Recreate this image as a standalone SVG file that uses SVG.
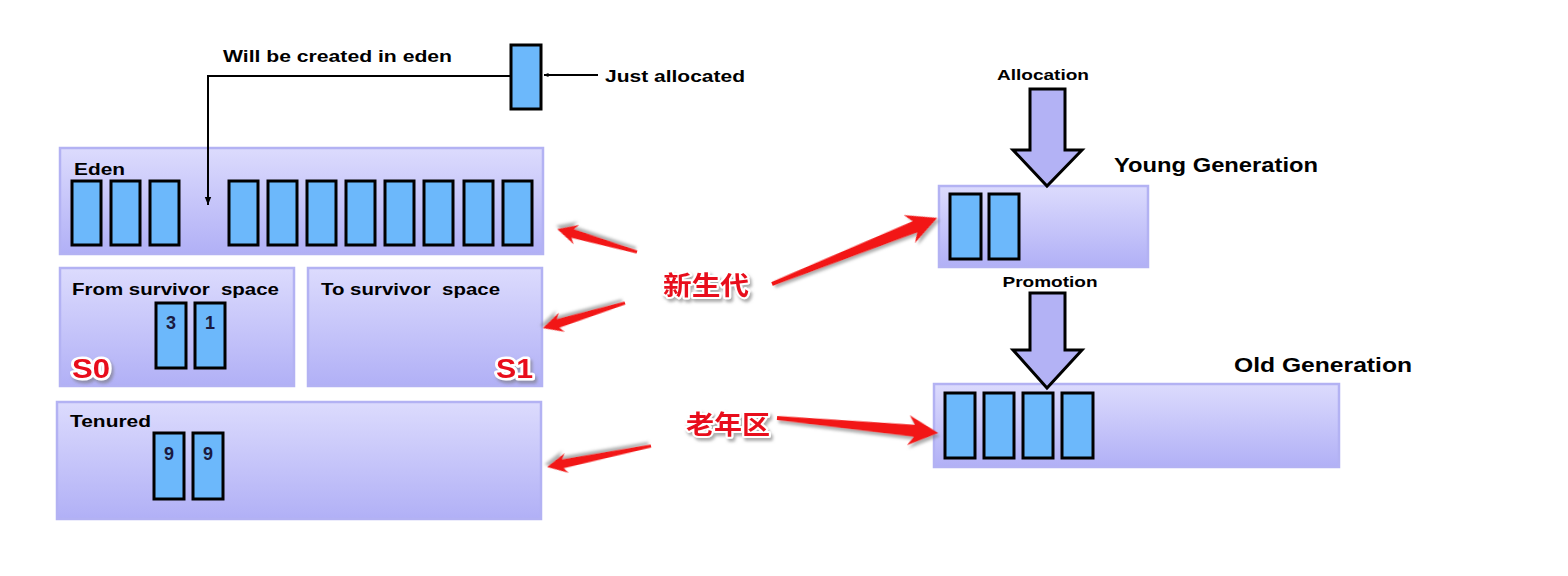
<svg xmlns="http://www.w3.org/2000/svg" width="1568" height="576" viewBox="0 0 1568 576">
<defs>
<linearGradient id="boxg" x1="0" y1="0" x2="0" y2="1">
<stop offset="0" stop-color="#dcdbfd"/>
<stop offset="1" stop-color="#b1b0f6"/>
</linearGradient>
<marker id="ah" viewBox="0 0 10 10" refX="9" refY="5" markerWidth="5" markerHeight="5" orient="auto" markerUnits="userSpaceOnUse">
<path d="M0,1 L10,5 L0,9 Z" fill="#000"/>
</marker>
<marker id="ah2" viewBox="0 0 10 10" refX="10" refY="5" markerWidth="8" markerHeight="8" orient="auto" markerUnits="userSpaceOnUse">
<path d="M0,1 L10,5 L0,9 Z" fill="#000"/>
</marker>
<filter id="sh" x="-20%" y="-50%" width="140%" height="200%">
<feDropShadow dx="2" dy="3" stdDeviation="1.5" flood-color="#777" flood-opacity="0.6"/>
</filter>
</defs>
<style>
.box{fill:url(#boxg);stroke:#b3b2f3;stroke-width:2.5}
.obj{fill:#6cb8fb;stroke:#000;stroke-width:3}
.t{font-family:"Liberation Sans",Arial,sans-serif;font-weight:bold;fill:#000;white-space:pre}
.num{font-family:"Liberation Sans",Arial,sans-serif;font-weight:bold;font-size:18px;fill:#1a1a40;text-anchor:middle}
.red{font-family:"Liberation Sans",Arial,sans-serif;font-weight:bold;fill:#e8101a;stroke:#fff;stroke-width:5;paint-order:stroke;stroke-linejoin:round;filter:url(#sh)}
.cn{font-family:"Noto Sans CJK SC","Liberation Sans",sans-serif;font-weight:bold;fill:#e8101a;stroke:#fff;stroke-width:4;paint-order:stroke;stroke-linejoin:round;filter:url(#sh)}
.ra{fill:#f21414;filter:url(#sh)}
.big{fill:#b3b2f5;stroke:#000;stroke-width:3;stroke-linejoin:miter}
.ln{fill:none;stroke:#000;stroke-width:2}
</style>
<rect width="1568" height="576" fill="#fff"/>

<g id="eden">
<rect class="box" x="60" y="148" width="483" height="106"/>
<text class="t" x="74" y="175" font-size="17" textLength="51" lengthAdjust="spacingAndGlyphs">Eden</text>
<rect class="obj" x="72" y="181" width="29" height="64"/>
<rect class="obj" x="111" y="181" width="29" height="64"/>
<rect class="obj" x="150" y="181" width="29" height="64"/>
<rect class="obj" x="229" y="181" width="29" height="64"/>
<rect class="obj" x="268" y="181" width="29" height="64"/>
<rect class="obj" x="307" y="181" width="29" height="64"/>
<rect class="obj" x="346" y="181" width="29" height="64"/>
<rect class="obj" x="385" y="181" width="29" height="64"/>
<rect class="obj" x="424" y="181" width="29" height="64"/>
<rect class="obj" x="464" y="181" width="29" height="64"/>
<rect class="obj" x="503" y="181" width="29" height="64"/>
</g>

<g id="new-object">
<rect class="obj" x="511" y="45" width="30" height="64"/>
</g>

<g id="from-survivor">
<rect class="box" x="60" y="268" width="234" height="118"/>
<text class="t" x="72" y="295" font-size="17" textLength="207" lengthAdjust="spacingAndGlyphs" xml:space="preserve">From survivor  space</text>
<rect class="obj" x="156" y="303" width="30" height="65"/>
<rect class="obj" x="195" y="303" width="30" height="65"/>
<text class="num" x="171" y="329">3</text>
<text class="num" x="210" y="329">1</text>
<text class="red" x="72" y="378" font-size="27" textLength="38" lengthAdjust="spacingAndGlyphs">S0</text>
</g>

<g id="to-survivor">
<rect class="box" x="308" y="268" width="234" height="118"/>
<text class="t" x="321" y="295" font-size="17" textLength="179" lengthAdjust="spacingAndGlyphs" xml:space="preserve">To survivor  space</text>
<text class="red" x="496" y="378" font-size="27" textLength="37" lengthAdjust="spacingAndGlyphs">S1</text>
</g>

<g id="tenured">
<rect class="box" x="57" y="402" width="484" height="117"/>
<text class="t" x="70" y="427" font-size="17" textLength="81" lengthAdjust="spacingAndGlyphs">Tenured</text>
<rect class="obj" x="154" y="433" width="30" height="66"/>
<rect class="obj" x="193" y="433" width="30" height="66"/>
<text class="num" x="169" y="460">9</text>
<text class="num" x="208" y="460">9</text>
</g>

<g id="young-gen">
<rect class="box" x="939" y="186" width="209" height="81"/>
<rect class="obj" x="950" y="194" width="31" height="65"/>
<rect class="obj" x="989" y="194" width="30" height="65"/>
<text class="t" x="1114" y="172" font-size="21" textLength="204" lengthAdjust="spacingAndGlyphs">Young Generation</text>
</g>

<g id="old-gen">
<rect class="box" x="934" y="384" width="405" height="83"/>
<rect class="obj" x="945" y="393" width="30" height="65"/>
<rect class="obj" x="984" y="393" width="30" height="65"/>
<rect class="obj" x="1023" y="393" width="30" height="65"/>
<rect class="obj" x="1062" y="393" width="31" height="65"/>
<text class="t" x="1234" y="372" font-size="21" textLength="178" lengthAdjust="spacingAndGlyphs">Old Generation</text>
</g>

<g id="label-young">
<text class="cn" x="663" y="295" font-size="26" textLength="86" lengthAdjust="spacingAndGlyphs">新生代</text>
</g>
<g id="label-old">
<text class="cn" x="686" y="434" font-size="26" textLength="84" lengthAdjust="spacingAndGlyphs">老年区</text>
</g>

<g id="connectors">
<path class="ln" d="M511,76 H208 V205" marker-end="url(#ah2)"/>
<text class="t" x="223" y="62" font-size="17" textLength="229" lengthAdjust="spacingAndGlyphs">Will be created in eden</text>
<path class="ln" d="M598,75 H544" marker-end="url(#ah)"/>
<text class="t" x="605" y="82" font-size="17" textLength="140" lengthAdjust="spacingAndGlyphs">Just allocated</text>

<polygon class="big" points="1030,89 1065,89 1065,150 1082,150 1047,186 1013,150 1030,150"/>
<text class="t" x="1043" y="80" font-size="15" text-anchor="middle" textLength="92" lengthAdjust="spacingAndGlyphs">Allocation</text>
<polygon class="big" points="1030,293 1065,293 1065,350 1082,350 1047,388 1013,350 1030,350"/>
<text class="t" x="1050" y="287" font-size="15" text-anchor="middle" textLength="95" lengthAdjust="spacingAndGlyphs">Promotion</text>

<polygon class="ra" transform="translate(637 252) rotate(196.04)" points="0,-1.5 67,-4.5 63,-10 83,0 63,10 67,4.5 0,1.5"/>
<polygon class="ra" transform="translate(625 303) rotate(163.04)" points="0,-1.5 70,-4.5 66,-10 86,0 66,10 70,4.5 0,1.5"/>
<polygon class="ra" transform="translate(772 284) rotate(-21.8)" points="0,-2 154,-6 148,-15 178,0 148,15 154,6 0,2"/>
<polygon class="ra" transform="translate(777 418) rotate(5.32)" points="0,-2 138,-6 132,-15 162,0 132,15 138,6 0,2"/>
<polygon class="ra" transform="translate(651 446) rotate(168.58)" points="0,-1.5 90,-4.5 86,-10 106,0 86,10 90,4.5 0,1.5"/>
</g>
</svg>
